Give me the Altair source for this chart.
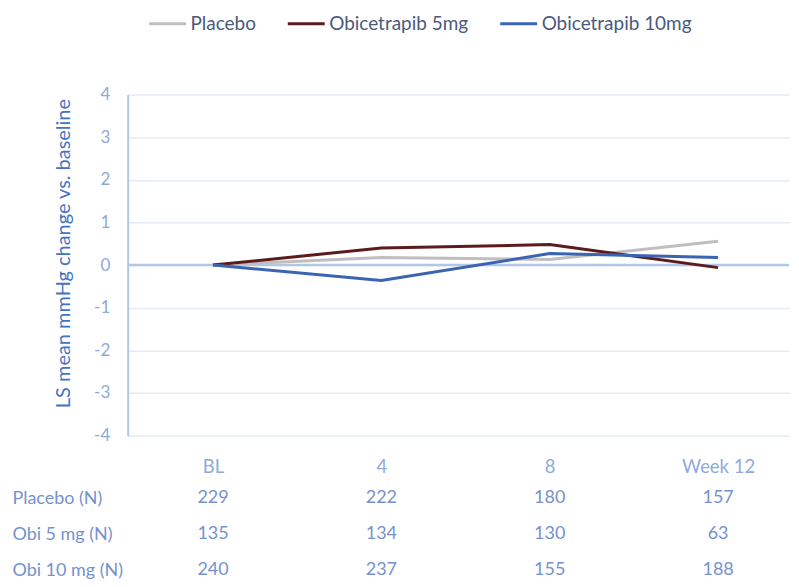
import altair as alt
import pandas as pd

weeks = ["BL", "4", "8", "Week 12"]
series = ["Placebo", "Obicetrapib 5mg", "Obicetrapib 10mg"]
colors = ["#bfbfbf", "#5c1c1c", "#3b65b2"]
placebo = [0.0, 0.18, 0.13, 0.56]
obi5 = [0.0, 0.40, 0.48, -0.06]
obi10 = [0.0, -0.36, 0.27, 0.18]
y_ticks = [-4, -3, -2, -1, 0, 1, 2, 3, 4]

rows = ["Placebo (N)", "Obi 5 mg (N)", "Obi 10 mg (N)"]
n_placebo = [229, 222, 180, 157]
n_obi5 = [135, 134, 130, 63]
n_obi10 = [240, 237, 155, 188]

FONT = "Lato"
AXIS_LBL = "#8eaadb"
TITLE_BLUE = "#4472c4"
TABLE_CLR = "#7592cc"

recs = []
for s, vals in zip(series, [placebo, obi5, obi10]):
    for w, v in zip(weeks, vals):
        recs.append({"series": s, "week": w, "value": v})
df = pd.DataFrame(recs)

trecs = []
for r, vals in zip(rows, [n_placebo, n_obi5, n_obi10]):
    for w, v in zip(weeks, vals):
        trecs.append({"row": r, "week": w, "n": v})
tdf = pd.DataFrame(trecs)

xscale = alt.Scale(type="point", padding=0.4639, align=0.546)

zero = alt.Chart(pd.DataFrame({"z": [0]})).mark_rule(
    color="#b4c6e7", strokeWidth=2.5
).encode(y=alt.Y("z:Q"))

lines = alt.Chart(df).mark_line(strokeWidth=3).encode(
    x=alt.X("week:N", sort=weeks, scale=xscale,
            axis=alt.Axis(title=None, domain=False, ticks=False, grid=False,
                          labelAngle=0, labelPadding=22, labelFontSize=18.5,
                          labelColor=AXIS_LBL, labelFont=FONT)),
    y=alt.Y("value:Q", scale=alt.Scale(domain=[-4, 4], nice=False, zero=False),
            axis=alt.Axis(values=y_ticks, labelExpr="'' + datum.value",
                          title="LS mean mmHg change vs. baseline",
                          titleColor=TITLE_BLUE, titleFont=FONT, titleFontSize=20,
                          titleFontWeight="normal", titlePadding=20, titleY=159,
                          labelColor=AXIS_LBL, labelFont=FONT, labelFontSize=17,
                          labelPadding=18, ticks=False,
                          domain=True, domainColor="#b4c6e7", domainWidth=2,
                          grid=True, gridColor="#e4eaf6", gridWidth=1.5)),
    color=alt.Color("series:N", scale=alt.Scale(domain=series, range=colors),
                    legend=alt.Legend(orient="none", legendX=20, legendY=-91,
                                      direction="horizontal", title=None,
                                      symbolType="stroke", symbolSize=1369,
                                      symbolStrokeWidth=3, labelFont=FONT,
                                      labelFontSize=19, labelColor="#4a5a7e",
                                      labelOffset=3, columnPadding=25)),
)

top = alt.layer(zero, lines).properties(width=663, height=342)

table = alt.Chart(tdf).mark_text(fontSize=18, font=FONT, color=TABLE_CLR).encode(
    x=alt.X("week:N", sort=weeks, scale=xscale, axis=None),
    y=alt.Y("row:N", sort=rows, scale=alt.Scale(type="point", padding=0),
            axis=alt.Axis(title=None, domain=False, ticks=False, grid=False,
                          labelAlign="left", labelPadding=116, labelFontSize=18,
                          labelFont=FONT, labelColor=TABLE_CLR)),
    text="n:Q",
).properties(width=663, height=72)

chart = alt.vconcat(top, table, spacing=13).properties(
    padding={"left": 4, "top": -5, "right": 0, "bottom": -1}
).configure_view(stroke=None)

chart.save("out.html", embed_options={"renderer": "svg", "actions": False})
